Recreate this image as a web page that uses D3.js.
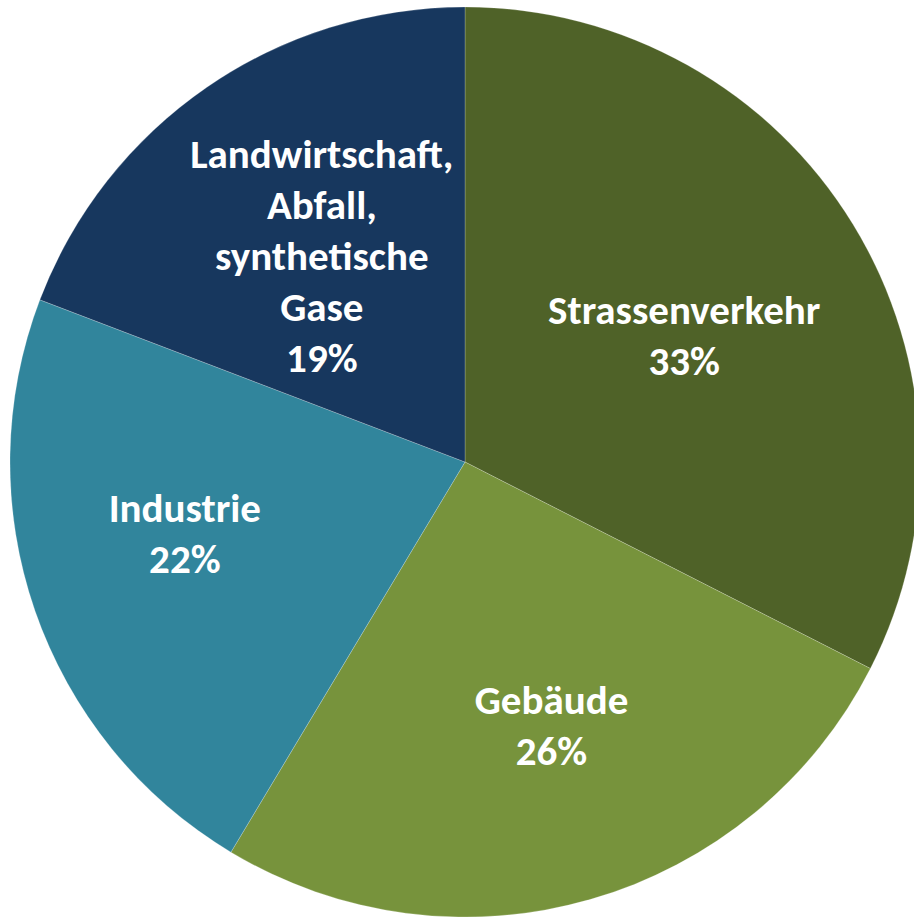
<!DOCTYPE html>
<html>
<head>
<meta charset="utf-8">
<script src="https://cdn.jsdelivr.net/npm/d3@7"></script>
<style>
    html, body { margin: 0; padding: 0; background: #fff; }
    svg { display: block; }
</style>
</head>
<body>
<svg id="chart" width="914" height="917"></svg>
<script>
// sectors of the greenhouse gas emissions, clockwise from 12 o'clock
var categories = ["Strassenverkehr", "Gebäude", "Industrie", "Landwirtschaft, Abfall, synthetische Gase"];
var shares = [32.5, 26.1, 22.2, 19.2];
var labelLines = [
    ["Strassenverkehr"],
    ["Gebäude"],
    ["Industrie"],
    ["Landwirtschaft,", "Abfall,", "synthetische", "Gase"]
];
var colors = ["#4f6228", "#77933c", "#31859c", "#17375e"];

// small hand tweaks so the labels sit where the original put them
var labelNudge = [[-11, 16], [12, 5], [-25, -16], [10, 17]];

var svg = d3.select("#chart"),
    width = +svg.attr("width"),
    height = +svg.attr("height");

var cx = 465, cy = 462, radius = 455;

var data = categories.map(function(c, i) {
    return { name: c, value: shares[i], lines: labelLines[i], nudge: labelNudge[i] };
});

var color = d3.scaleOrdinal()
    .domain(categories)
    .range(colors);

var pie = d3.pie()
    .sort(null)
    .value(function(d) { return d.value; });

var arc = d3.arc()
    .innerRadius(0)
    .outerRadius(radius);

var labelArc = d3.arc()
    .innerRadius(270)
    .outerRadius(270);

var pct = function(v) { return Math.round(v) + "%"; };

var g = svg.append("g")
    .attr("transform", "translate(" + cx + "," + cy + ")");

var arcs = pie(data);

g.selectAll("path.slice")
    .data(arcs)
    .enter().append("path")
    .attr("class", "slice")
    .attr("d", arc)
    .attr("fill", function(d) { return color(d.data.name); })
    .attr("stroke", "rgba(255,255,255,0.35)")
    .attr("stroke-width", 0.6);

var lineHeight = 51;

var labels = g.selectAll("text.label")
    .data(arcs)
    .enter().append("text")
    .attr("class", "label")
    .attr("text-anchor", "middle")
    .attr("fill", "#ffffff")
    .style("font-family", "Carlito, Lato, 'Open Sans', sans-serif")
    .style("font-weight", "bold")
    .style("font-size", "41px")
    .attr("transform", function(d) {
        var c = labelArc.centroid(d);
        return "translate(" + (c[0] + d.data.nudge[0]) + "," + (c[1] + d.data.nudge[1]) + ")";
    });

labels.each(function(d) {
    var lines = d.data.lines.concat([pct(d.data.value)]);
    var n = lines.length;
    var first = -(n - 1) / 2 * lineHeight + 13;
    d3.select(this).selectAll("tspan")
        .data(lines)
        .enter().append("tspan")
        .attr("x", 0)
        .attr("y", function(t, i) { return first + i * lineHeight; })
        .text(function(t) { return t; });
});
</script>
</body>
</html>
